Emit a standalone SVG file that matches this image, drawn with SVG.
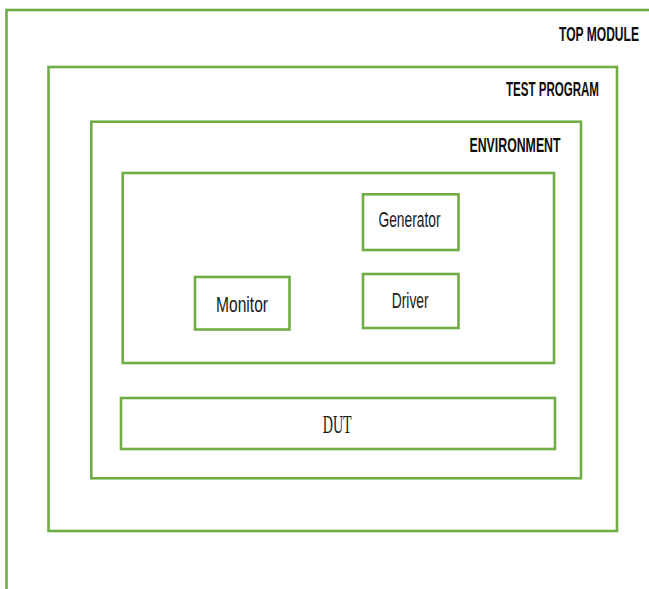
<svg xmlns="http://www.w3.org/2000/svg" width="649" height="589" viewBox="0 0 649 589">
  <style>
    .frame { fill: none; stroke: #70ad47; stroke-width: 2.6; }
    .box { fill: #ffffff; stroke: #70ad47; stroke-width: 2.6; }
    .title { font-family: "Liberation Sans", Arial, sans-serif; font-weight: bold; font-size: 20.5px; fill: #0d0d0d; }
    .label { font-family: "Liberation Sans", Arial, sans-serif; font-size: 22px; fill: #1a1a1a; }
    .serif { font-family: "Liberation Serif", "Times New Roman", serif; font-size: 25px; fill: #1a1a1a; }
  </style>
  <rect x="0" y="0" width="649" height="589" fill="#ffffff"/>

  <!-- Nested testbench hierarchy; condensed headings use a horizontal scale -->
  <g id="top-module">
    <rect class="frame" x="6.5" y="10" width="700" height="700"/>
    <text class="title" transform="translate(559 40.5) scale(0.585 1)" x="0" y="0" textLength="136.75" lengthAdjust="spacingAndGlyphs">TOP MODULE</text>
  </g>

  <g id="test-program">
    <rect class="frame" x="48.5" y="67" width="568.5" height="464"/>
    <text class="title" transform="translate(506 95.5) scale(0.565 1)" x="0" y="0" textLength="164.6" lengthAdjust="spacingAndGlyphs">TEST PROGRAM</text>
  </g>

  <g id="environment">
    <rect class="frame" x="91.3" y="121.7" width="489.7" height="356.6"/>
    <text class="title" transform="translate(469.5 151.5) scale(0.6 1)" x="0" y="0" textLength="151.7" lengthAdjust="spacingAndGlyphs">ENVIRONMENT</text>
  </g>

  <g id="agent">
    <rect class="frame" x="122.7" y="173" width="431.3" height="190"/>
  </g>

  <g id="generator">
    <rect class="box" x="363" y="194.3" width="95.5" height="55.7"/>
    <text class="label" x="378.5" y="227.3" textLength="62" lengthAdjust="spacingAndGlyphs">Generator</text>
  </g>

  <g id="driver">
    <rect class="box" x="363" y="274" width="95.5" height="54"/>
    <text class="label" x="391.7" y="308.3" textLength="37" lengthAdjust="spacingAndGlyphs">Driver</text>
  </g>

  <g id="monitor">
    <rect class="box" x="195" y="277" width="94.5" height="52.5"/>
    <text class="label" x="216" y="311.5" textLength="52" lengthAdjust="spacingAndGlyphs">Monitor</text>
  </g>

  <g id="dut">
    <rect class="box" x="121" y="398" width="434" height="51"/>
    <text class="serif" x="322.7" y="432.7" textLength="29" lengthAdjust="spacingAndGlyphs">DUT</text>
  </g>
</svg>
